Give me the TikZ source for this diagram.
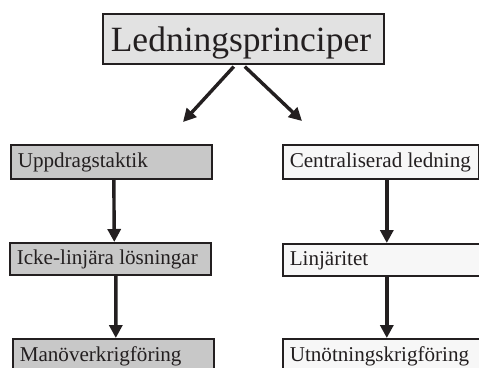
\documentclass[tikz,border=0pt]{standalone}
\usepackage{fontspec}
\setmainfont{Liberation Serif}
\usetikzlibrary{arrows.meta}
\definecolor{ink}{HTML}{231F20}
\definecolor{topfill}{HTML}{E2E2E2}
\definecolor{leftfill}{HTML}{C8C8C8}
\definecolor{rightfill}{HTML}{F7F7F7}
\newcommand{\lw}[1]{\makebox[187bp][l]{#1}}
\newcommand{\rw}[1]{\makebox[182bp][l]{#1}}
\newcommand{\rwx}[1]{\makebox[186bp][l]{#1}}
\begin{document}
\begin{tikzpicture}[x=1bp,y=-1bp,
  box/.style={draw=ink, line width=1.6bp, rectangle, anchor=north west,
    inner xsep=7bp, inner ysep=0pt, text=ink,
    font=\fontsize{21.1bp}{24bp}\selectfont,
    text height=16bp, text depth=5bp,
    minimum height=34bp},
  lbox/.style={box, fill=leftfill},
  rbox/.style={box, fill=rightfill},
  arr/.style={draw=ink, line width=3.4bp, -{Triangle[length=13bp,width=13bp]}}]
\useasboundingbox (0,0) rectangle (479,367);
\clip (0,0) rectangle (479,367);
\fill[white] (0,0) rectangle (479,367);
% top
\node[draw=ink, line width=1.6bp, fill=topfill, anchor=north west,
  minimum height=50bp, inner xsep=8bp, inner ysep=0pt, text=ink,
  font=\fontsize{35.5bp}{40bp}\selectfont,
  text height=27bp, text depth=2bp] (top) at (102,13)
  {\makebox[265bp][l]{Ledningsprinciper}};
\coordinate (tl) at (183,122);
\coordinate (tr) at (302,121);
\draw[arr] ([xshift=-9.5bp,yshift=-2bp]top.south) -- (tl);
\draw[arr] ([xshift=1.5bp,yshift=-2bp]top.south) -- (tr);
% left column
\node[lbox] (l1) at (10,144) {\lw{Uppdragstaktik}};
\node[lbox, minimum height=32bp] (l2) at (9,242) {\lw{Icke-linjära lösningar}};
\node[lbox] (l3) at (12,338) {\lw{Manöverkrigföring}};
\draw[arr] ([xshift=2.5bp]l1.south) -- ([xshift=4bp]l2.north);
\draw[arr] ([xshift=5.5bp]l2.south) -- ([xshift=2.5bp]l3.north);
% right column
\node[rbox] (r1) at (282,144) {\rw{Centraliserad ledning}};
\node[rbox, minimum height=32bp] (r2) at (282,243) {\rwx{Linjäritet}};
\node[rbox] (r3) at (282,338) {\rwx{Utnötningskrigföring}};
\draw[arr] ([xshift=6bp]r1.south) -- ([xshift=4bp]r2.north);
\draw[arr] ([xshift=4bp]r2.south) -- ([xshift=4bp]r3.north);
\end{tikzpicture}
\end{document}
